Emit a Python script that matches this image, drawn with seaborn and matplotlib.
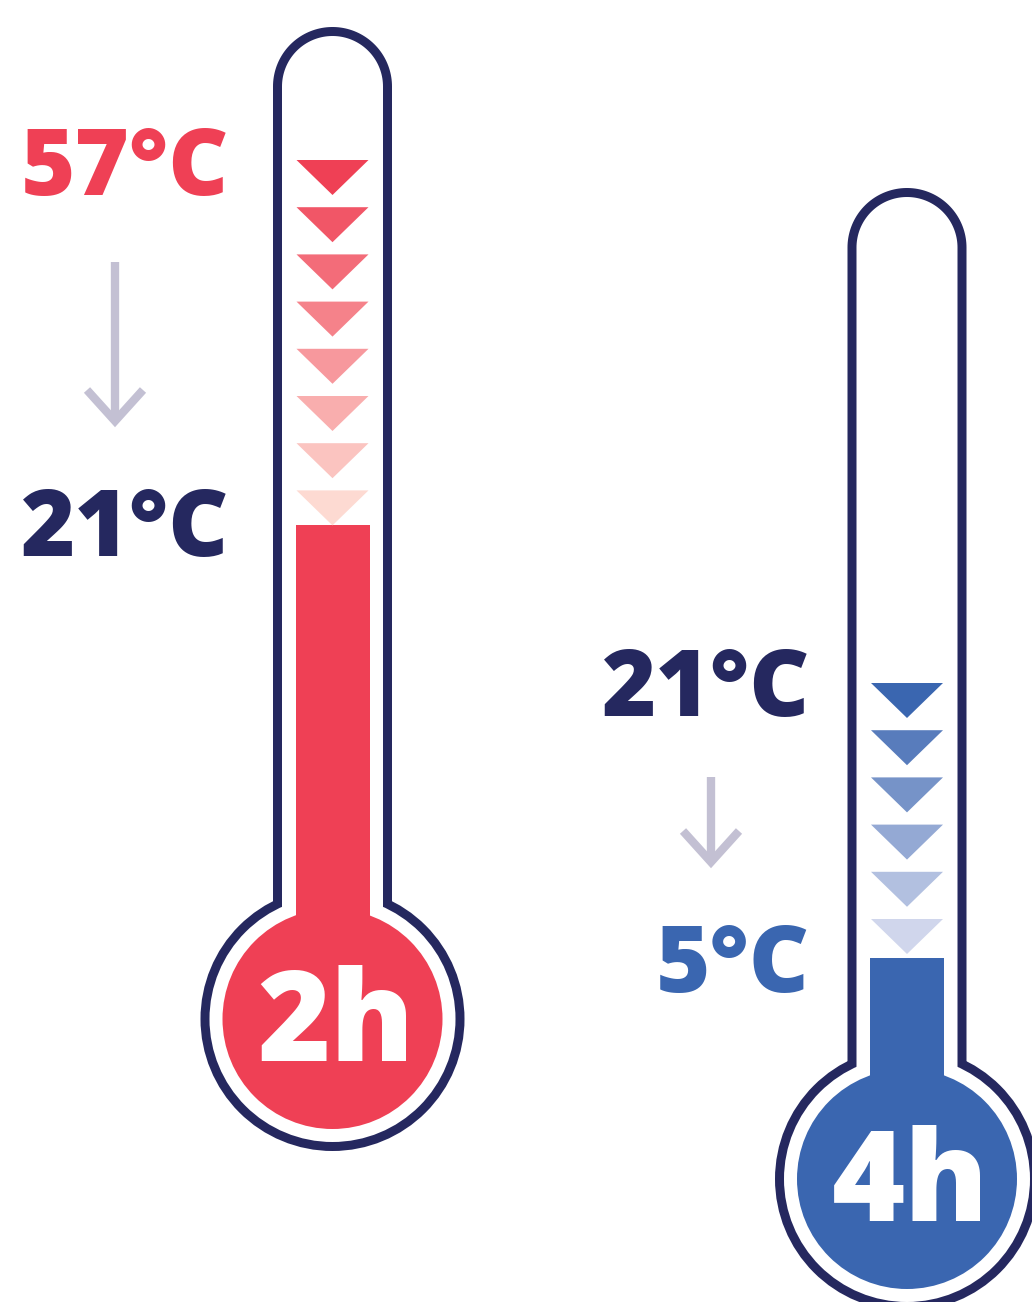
import matplotlib
matplotlib.use("Agg")
import matplotlib.pyplot as plt
from matplotlib.patches import Circle, Rectangle, Polygon
import numpy as np
import seaborn as sns

# ---- data ----
durations = ["2h", "4h"]
start_temps = [57, 21]
end_temps = [21, 5]
n_steps = [8, 6]
start_colors = ["#EF4055", "#25285F"]
end_colors = ["#25285F", "#3A66B0"]
fill_colors = ["#EF4055", "#3A66B0"]
light_colors = ["#FDDAD2", "#D0D6EC"]

NAVY = "#25285F"
ARROW = "#C3C0D3"

sns.set_theme(style="white")
plt.rcParams['font.family'] = ['Open Sans', 'DejaVu Sans']

W, H = 1032, 1302
fig = plt.figure(figsize=(W / 100, H / 100), dpi=100)
ax = fig.add_axes([0, 0, 1, 1])
ax.set_xlim(0, W)
ax.set_ylim(H, 0)
ax.axis("off")

# layout (pixel coordinates)
layout = [
    dict(cx=332.5, top=27, bulb_cy=1019, fill_top=525, tri_top0=160,
         label_x=229, t1_y=195, t2_y=556, arrow_x=115, arrow_y0=262, arrow_y1=421),
    dict(cx=907, top=188, bulb_cy=1179, fill_top=958, tri_top0=683,
         label_x=810, t1_y=716, t2_y=992, arrow_x=711, arrow_y0=777, arrow_y1=862),
]

R_OUT, R_IN, R_FILL = 132, 123, 110
HW_OUT, HW_IN, HW_FILL = 59.5, 50.5, 37
TRI_W, TRI_H, TRI_STEP = 72, 35, 47.2


def tube_poly(cx, ctop, hw, bottom):
    th = np.linspace(np.pi, 2 * np.pi, 80)
    arc = np.column_stack([cx + hw * np.cos(th), ctop + hw * np.sin(th)])
    pts = np.vstack([[cx - hw, bottom], arc, [cx + hw, bottom]])
    return pts


def draw_thermo(i):
    L = layout[i]
    cx, top, bcy = L["cx"], L["top"], L["bulb_cy"]
    ctop = top + HW_OUT
    for hw, r, col, z in [(HW_OUT, R_OUT, NAVY, 1), (HW_IN, R_IN, "white", 2)]:
        ax.add_patch(Polygon(tube_poly(cx, ctop, hw, bcy), closed=True, color=col, zorder=z, lw=0))
        ax.add_patch(Circle((cx, bcy), r, color=col, zorder=z, lw=0))
    # liquid
    ax.add_patch(Rectangle((cx - HW_FILL, L["fill_top"]), 2 * HW_FILL, bcy - L["fill_top"],
                           color=fill_colors[i], zorder=3, lw=0))
    ax.add_patch(Circle((cx, bcy), R_FILL, color=fill_colors[i], zorder=3, lw=0))
    # triangles
    pal = sns.blend_palette([fill_colors[i], light_colors[i]], n_steps[i])
    for k in range(n_steps[i]):
        y0 = L["tri_top0"] + k * TRI_STEP
        ax.add_patch(Polygon([(cx - TRI_W / 2, y0), (cx + TRI_W / 2, y0), (cx, y0 + TRI_H)],
                             closed=True, color=pal[k], zorder=4, lw=0))
    # duration label
    ax.text(cx + 3, bcy + 42, durations[i], color="white", fontsize=90, fontweight=800,
            ha="center", va="baseline", zorder=5)
    # temperatures
    ax.text(L["label_x"], L["t1_y"], f"{start_temps[i]}°C", color=start_colors[i],
            fontsize=67, fontweight=800, ha="right", va="baseline")
    ax.text(L["label_x"], L["t2_y"], f"{end_temps[i]}°C", color=end_colors[i],
            fontsize=67, fontweight=800, ha="right", va="baseline")
    # arrow
    ax_x, y0, y1 = L["arrow_x"], L["arrow_y0"], L["arrow_y1"]
    ax.plot([ax_x, ax_x], [y0, y1 - 3], color=ARROW, lw=6, solid_capstyle="butt")
    ax.plot([ax_x - 28, ax_x, ax_x + 28], [y1 - 31, y1, y1 - 31], color=ARROW, lw=6,
            solid_joinstyle="miter", solid_capstyle="butt")


for i in range(len(durations)):
    draw_thermo(i)

fig.savefig("out.png", dpi=100, facecolor="white")
